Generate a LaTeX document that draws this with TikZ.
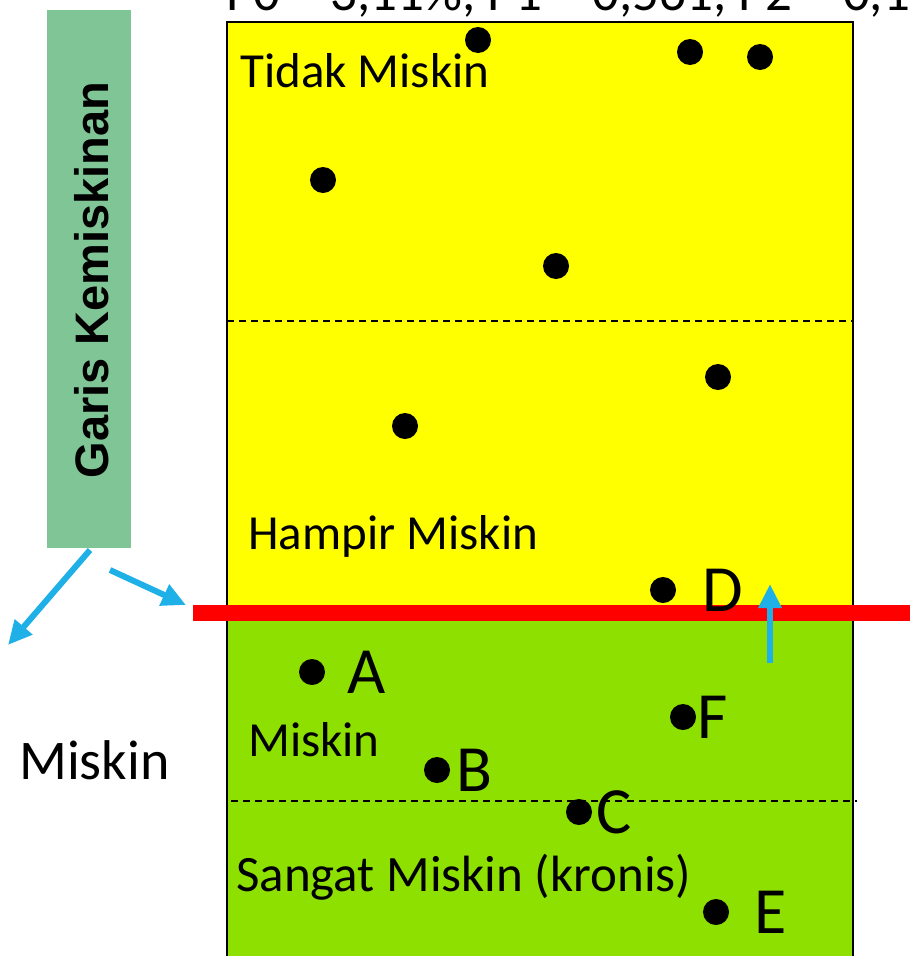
\documentclass[tikz,border=0pt]{standalone}
\usepackage{fontspec}
\setmainfont{Carlito}
\newfontfamily\boldsans{Liberation Sans}
\usetikzlibrary{arrows.meta,positioning}
\definecolor{zonayellow}{RGB}{255,255,0}
\definecolor{zonagreen}{RGB}{142,224,0}
\definecolor{gkgreen}{RGB}{128,197,149}
\definecolor{arrowblue}{RGB}{30,176,230}

\begin{document}
\begin{tikzpicture}[
    x=1pt, y=-1pt,
    dot/.style={circle, fill=black, inner sep=0pt, minimum size=26pt},
    letter/.style={font=\fontsize{66}{68}\selectfont, inner sep=0pt},
    zone/.style={font=\fontsize{49}{52}\selectfont, anchor=west, inner sep=0pt},
    batas/.style={dash pattern=on 7pt off 5pt, line width=1.5pt},
    blue arrow/.style={draw=arrowblue, line width=6pt, -{Triangle[length=24pt,width=22pt]}}
]
    \useasboundingbox (0,0) rectangle (910,956);
    \clip (0,0) rectangle (910,956);

    % Zones
    \fill[zonayellow] (227,22) rectangle (853,613);
    \fill[zonagreen] (227,613) rectangle (853,960);
    \draw[line width=2pt] (227,960) -- (227,22) -- (853,22) -- (853,960);
    \draw[batas] (227,321) -- (853,321);
    \draw[batas] (231,801) -- (857,801);

    % Indeks (terpotong di atas)
    \node[anchor=base west, inner sep=0pt, font=\fontsize{53}{56}\selectfont] (idx) at (226,10) {P0 = 3,11\%, P1 = 0,561, P2 = 0,155};

    % Label zona
    \node[zone] (tidak) at (240,71) {Tidak Miskin};
    \node[zone] (hampir) at (248,536) {Hampir Miskin};
    \node[zone] (miskin) at (248,740) {Miskin};
    \node[zone, font=\fontsize{51}{54}\selectfont] (sangat) at (236,877) {Sangat Miskin (kronis)};
    \node[anchor=west, inner sep=0pt, font=\fontsize{56}{60}\selectfont] (miskinout) at (19,760) {Miskin};

    % Garis kemiskinan
    \node[fill=gkgreen, minimum width=84pt, minimum height=538pt, inner sep=0pt] (gk) at (89,279) {};
    \node[rotate=90, font=\boldsans\bfseries\fontsize{47}{50}\selectfont, inner sep=0pt] (gktext) at (92,280) {Garis Kemiskinan};
    \draw[red, line width=16pt] (193,613) -- (910,613);

    % Rumah tangga
    \node[dot] (t1) at (478,40) {};
    \node[dot] (t2) at (690,52) {};
    \node[dot] (t3) at (760,57) {};
    \node[dot] (t4) at (323,180) {};
    \node[dot] (t5) at (556,266) {};
    \node[dot] (h1) at (718,377) {};
    \node[dot] (h2) at (405,426) {};
    \node[dot] (d) at (663,590) {};
    \node[dot] (a) at (312,672) {};
    \node[dot] (f) at (683,717) {};
    \node[dot] (b) at (437,770) {};
    \node[dot] (c) at (579,812) {};
    \node[dot] (e) at (716,912) {};

    \node[letter, right=26pt of d] (dl) {D};
    \node[letter, right=22pt of a] (al) {A};
    \node[letter, right=1pt of f] (fl) {F};
    \node[letter, right=6pt of b] (bl) {B};
    \node[letter, right=4pt of c] (cl) {C};
    \node[letter, right=25pt of e] (el) {E};

    % Panah
    \coordinate (gkbot) at (90,550);
    \coordinate (gkmid) at (110,570);
    \coordinate (kiri) at (8,645);
    \coordinate (garis) at (186,605);
    \coordinate (naikbawah) at (770,663);
    \coordinate (naikatas) at (770,584);
    \draw[blue arrow] (gkbot) -- (kiri);
    \draw[blue arrow] (gkmid) -- (garis);
    \draw[blue arrow] (naikbawah) -- (naikatas);
\end{tikzpicture}
\end{document}
